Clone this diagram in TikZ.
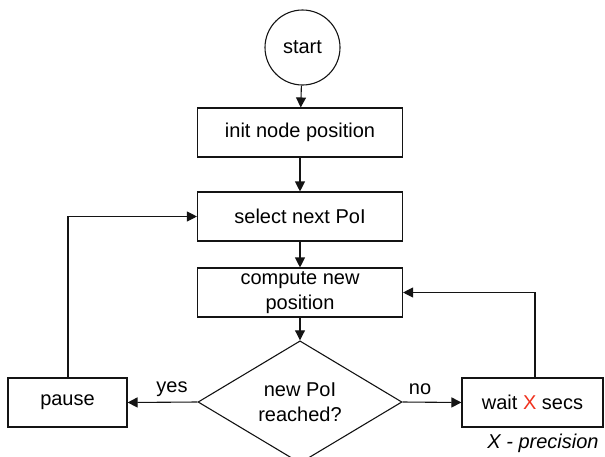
\documentclass[tikz,border=0pt]{standalone}
\usepackage{fontspec}
\setmainfont{Liberation Sans}
\usetikzlibrary{shapes.geometric,arrows.meta}
\definecolor{xred}{RGB}{240,50,30}
\definecolor{lin}{RGB}{20,20,20}
\begin{document}
\begin{tikzpicture}[x=1pt,y=-1pt,
  every node/.style={font=\fontsize{20}{25}\selectfont, text=black},
  box/.style={draw=lin, line width=1.1pt, minimum width=205pt, minimum height=49pt, inner sep=0pt, align=center},
  startc/.style={draw=lin, line width=1.1pt, circle, minimum size=75pt, inner sep=0pt},
  decis/.style={draw=lin, line width=1.1pt, diamond, minimum width=204pt, minimum height=104pt, inner sep=0pt, align=center},
  conn/.style={draw=lin, line width=1.1pt, -{Triangle[length=10pt,width=10pt]}},
  lbl/.style={inner sep=0pt}
]
\useasboundingbox (0,0) rectangle (605,456);
\node[startc] (start) at (302.5,47.5) {start};
\node[box] (init) at (300,132.5) {init node position};
\node[box] (select) at (300,216.5) {select next PoI};
\node[box] (compute) at (300,292.5) {compute new\\position};
\node[decis] (dec) at (300,402) {new PoI\\reached?};
\node[box, minimum width=119pt] (pause) at (67.5,402.5) {pause};
\node[box, minimum width=141pt] (wait) at (532.5,402.5) {wait \textcolor{xred}{X} secs};
\node[lbl] (prec) at (543,443) {\itshape X - precision};
\node[lbl] (yes) at (172,389) {yes};
\node[lbl] (no) at (420,389) {no};
\coordinate (pup) at (68,216.5);
\coordinate (wup) at (535,292.5);
\draw[conn] (start) -- (init);
\draw[conn] (init) -- (select);
\draw[conn] (select) -- (compute);
\draw[conn] (compute) -- (dec);
\draw[conn] (dec.west) -- (pause.east);
\draw[conn] (dec.east) -- (wait.west);
\draw[conn] (pause.north -| pup) -- (pup) -- (select.west);
\draw[conn] (wait.north -| wup) -- (wup) -- (compute.east);
\end{tikzpicture}
\end{document}
